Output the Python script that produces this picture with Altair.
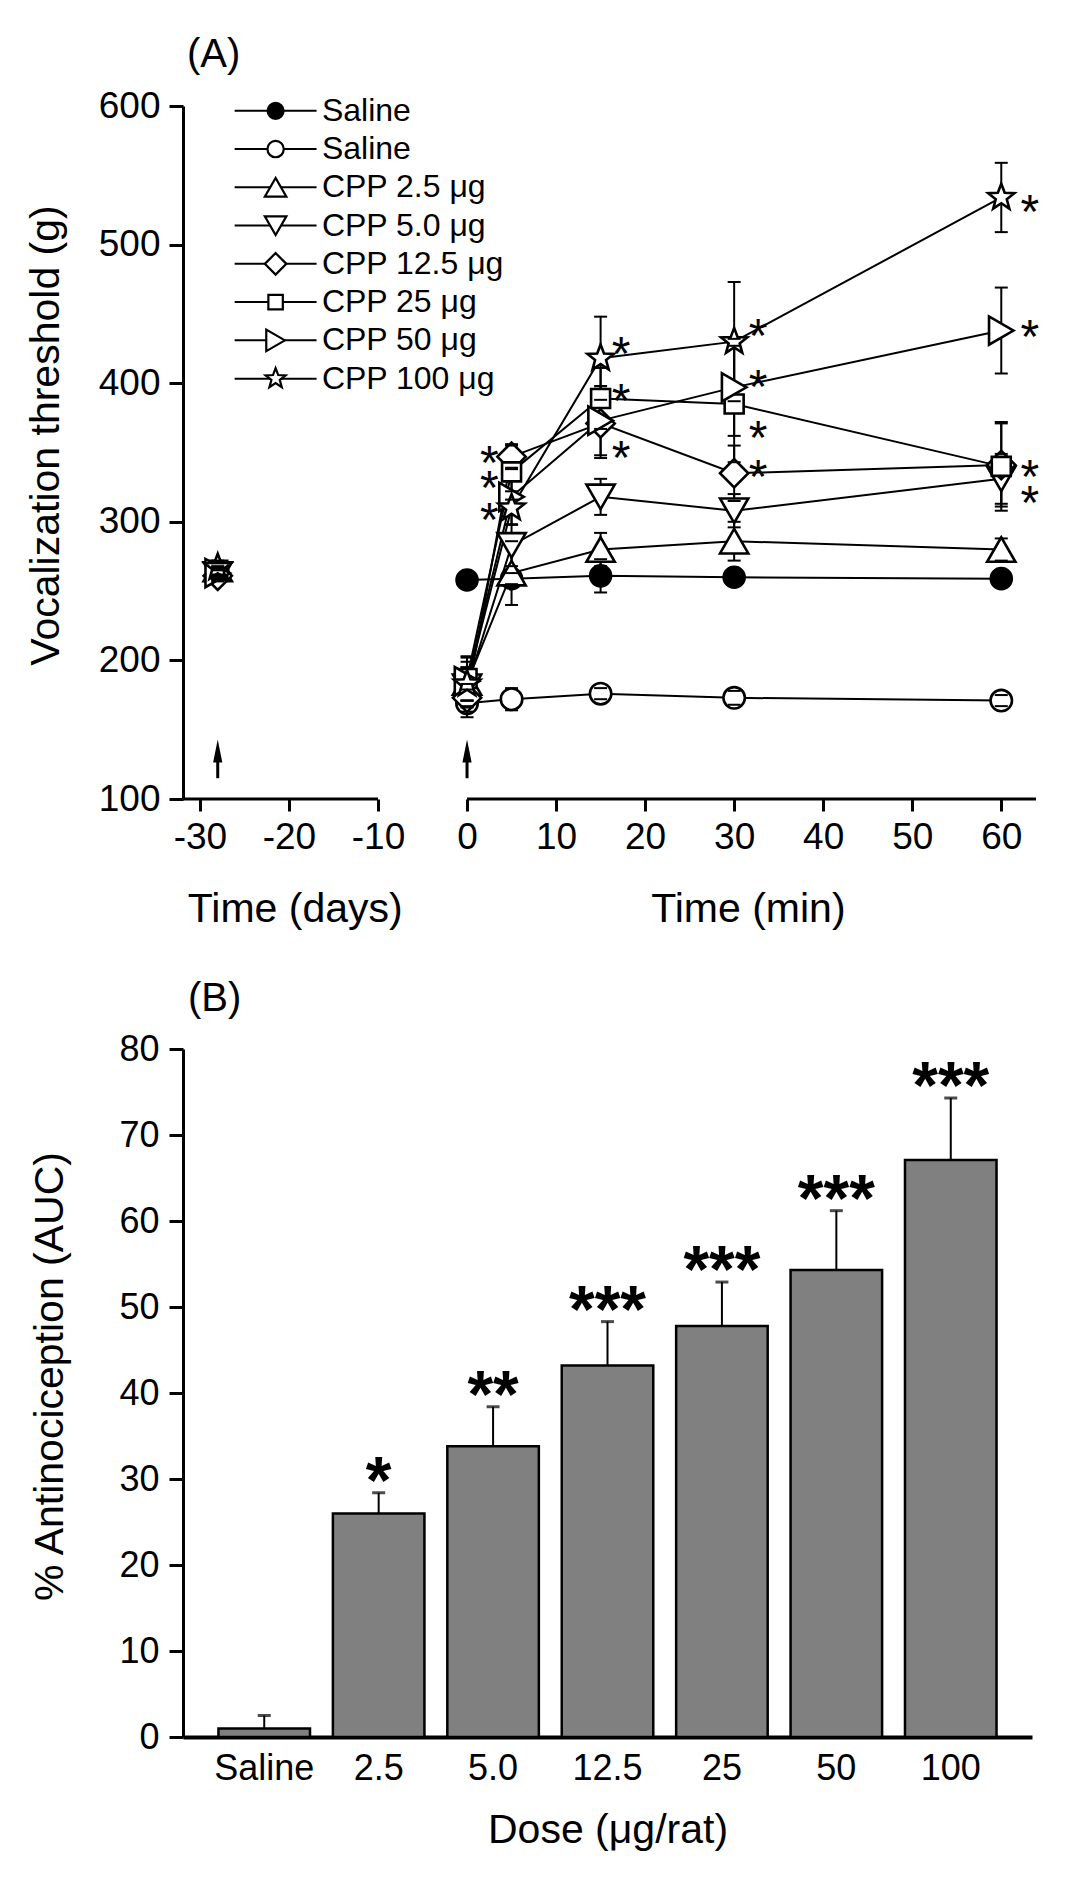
import altair as alt
import pandas as pd

FONT = "Liberation Sans"

# ---------------- Panel A data ----------------
group_keys = ["saline_f", "saline_o", "cpp2.5", "cpp5", "cpp12.5", "cpp25", "cpp50", "cpp100"]
group_labels = ["Saline", "Saline", "CPP 2.5 μg", "CPP 5.0 μg", "CPP 12.5 μg",
                "CPP 25 μg", "CPP 50 μg", "CPP 100 μg"]

pre_day = -28
pre_values = [263, 264, 266, 262, 261, 265, 263, 267]
pre_sem = [4, 4, 5, 4, 4, 5, 4, 5]

times_min = [0, 5, 15, 30, 60]
values = [
    [258, 259, 261, 260, 259],
    [169, 172, 176, 173, 171],
    [184, 263, 280, 286, 280],
    [181, 283, 318, 308, 331],
    [173, 347, 371, 335, 341],
    [187, 336, 389, 385, 340],
    [185, 318, 373, 397, 438],
    [183, 310, 418, 430, 534],
]
sems = [
    [4, 4, 12, 5, 5],
    [10, 8, 4, 5, 4],
    [18, 23, 12, 14, 8],
    [14, 15, 13, 12, 18],
    [10, 8, 25, 20, 30],
    [16, 20, 22, 42, 32],
    [14, 20, 25, 35, 31],
    [12, 12, 30, 43, 25],
]

sig_time = [2.5, 2.5, 2.5, 17.3, 17.3, 17.3, 32.7, 32.7, 32.7, 32.7, 63.2, 63.2, 63.2, 63.2]
sig_value = [351, 333, 310, 430, 395.5, 355, 443, 406, 369, 341, 532, 442, 341, 322]

arrow_x = [-28, 0]
arrow_tip = 143
arrow_base = 115

x_ticks_A = [-30, -20, -10, 0, 10, 20, 30, 40, 50, 60]
y_ticks_A = [100, 200, 300, 400, 500, 600]
axis_seg_start = [-31.9, 0]
axis_seg_end = [-10, 63.9]
x_titles_A = ["Time (days)", "Time (min)"]
x_titles_pos = [-19.3, 31.6]

# ---------------- Panel B data ----------------
doses = ["Saline", "2.5", "5.0", "12.5", "25", "50", "100"]
auc = [1.0, 26.0, 33.8, 43.2, 47.8, 54.3, 67.1]
auc_sem = [1.5, 2.4, 4.6, 5.1, 5.1, 6.9, 7.2]
sig_b = ["", "*", "**", "***", "***", "***", "***"]
y_ticks_B = [0, 10, 20, 30, 40, 50, 60, 70, 80]

# ---------------- styles ----------------
STAR = ("M0,-1L0.247,-0.34L0.951,-0.309L0.399,0.13L0.588,0.809L0,0.42"
        "L-0.588,0.809L-0.399,0.13L-0.951,-0.309L-0.247,-0.34Z")
HEAD = "M0,-1L0.4,1L-0.4,1Z"
shape_map = {"saline_f": "circle", "saline_o": "circle", "cpp2.5": "triangle-up",
             "cpp5": "triangle-down", "cpp12.5": "diamond", "cpp25": "square",
             "cpp50": "triangle-right", "cpp100": STAR}
size_map = {"saline_f": 440, "saline_o": 460, "cpp2.5": 800, "cpp5": 800,
            "cpp12.5": 800, "cpp25": 360, "cpp50": 800, "cpp100": 760}
fill_map = {k: ("black" if k == "saline_f" else "white") for k in group_keys}
LEG_SCALE = 0.58
LEG_TOP, LEG_STEP = 596.5, 27.6
LEG_X0, LEG_X1, LEG_XM, LEG_XT = -26.1, -16.9, -21.5, -16.3
PX_PER_UNIT_A = 1.385

# ---------------- build tables ----------------
pt_rows, line_rows, cap_rows = [], [], []
for gi, g in enumerate(group_keys):
    all_t = [pre_day] + times_min
    all_v = [pre_values[gi]] + values[gi]
    all_s = [pre_sem[gi]] + sems[gi]
    for t, v, s in zip(all_t, all_v, all_s):
        pt_rows.append(dict(group=g, time=t, value=v, lo=v - s, hi=v + s,
                            shape=shape_map[g], size=size_map[g], fill=fill_map[g]))
        cap_rows.append(dict(time=t, cap=v - s))
        cap_rows.append(dict(time=t, cap=v + s))
    for t, v in zip(times_min, values[gi]):
        line_rows.append(dict(group=g, time=t, value=v))
pt_df = pd.DataFrame(pt_rows)
line_df = pd.DataFrame(line_rows)
cap_df = pd.DataFrame(cap_rows)
sig_df = pd.DataFrame({"t": sig_time, "v": sig_value})
seg_df = pd.DataFrame({"x0": axis_seg_start, "x1": axis_seg_end, "y": [100, 100]})
head_len = 23 / PX_PER_UNIT_A
arr_df = pd.DataFrame({"x": arrow_x, "base": [arrow_base] * 2,
                       "neck": [arrow_tip - head_len + 1] * 2,
                       "headc": [arrow_tip - head_len / 2] * 2})
leg_df = pd.DataFrame({
    "label": group_labels,
    "y": [LEG_TOP - i * LEG_STEP for i in range(len(group_keys))],
    "x0": LEG_X0, "x1": LEG_X1, "xm": LEG_XM, "xt": LEG_XT,
    "shape": [shape_map[g] for g in group_keys],
    "size": [size_map[g] * LEG_SCALE for g in group_keys],
    "fill": [fill_map[g] for g in group_keys],
})
ttl_df = pd.DataFrame({"x": x_titles_pos, "label": x_titles_A})

# ---------------- Panel A ----------------
xsA = alt.Scale(domain=[-31.9, 63.9], nice=False, zero=False)
ysA = alt.Scale(domain=[100, 600], nice=False, zero=False)

axA_x = alt.Axis(values=x_ticks_A, domain=False, tickSize=12, tickWidth=3, tickColor="black",
                 labelFontSize=37, labelPadding=8, labelExpr="'' + datum.value",
                 labelFont=FONT, labelColor="black", title=None, grid=False)
axA_y = alt.Axis(values=y_ticks_A, domain=True, domainWidth=3, domainColor="black",
                 tickSize=14, tickWidth=3, tickColor="black", labelFontSize=37, labelPadding=9,
                 labelExpr="'' + datum.value", labelFont=FONT, labelColor="black",
                 title="Vocalization threshold (g)", titleFont=FONT, titleFontSize=41,
                 titleFontWeight="normal", titleColor="black", titlePadding=31, titleY=329,
                 grid=False)


def XA(f):
    return alt.X(f, type="quantitative", scale=xsA, axis=axA_x)


def YA(f):
    return alt.Y(f, type="quantitative", scale=ysA, axis=axA_y)


axis_layer = alt.Chart(seg_df).mark_rule(color="black", strokeWidth=3).encode(
    x=XA("x0"), x2="x1", y=YA("y"))

lines = alt.Chart(line_df).mark_line(color="black", strokeWidth=2).encode(
    x=XA("time"), y=YA("value"), detail="group:N")

err = alt.Chart(pt_df).mark_rule(color="black", strokeWidth=2).encode(
    x=XA("time"), y=YA("lo"), y2="hi")

pts = alt.Chart(pt_df).mark_point(filled=True, opacity=1, stroke="black", strokeWidth=2.6).encode(
    x=XA("time"), y=YA("value"),
    shape=alt.Shape("shape:N", scale=None),
    size=alt.Size("size:Q", scale=None),
    fill=alt.Fill("fill:N", scale=None))

caps = alt.Chart(cap_df).mark_rule(color="black", strokeWidth=2, xOffset=-6.5, x2Offset=6.5).encode(
    x=XA("time"), x2="time", y=YA("cap"))

sigA = alt.Chart(sig_df).mark_text(text="*", font=FONT, fontSize=48, dy=28, baseline="alphabetic",
                                   align="center", color="black").encode(x=XA("t"), y=YA("v"))

shaft = alt.Chart(arr_df).mark_rule(color="black", strokeWidth=3).encode(
    x=XA("x"), y=YA("base"), y2="neck")
head = alt.Chart(arr_df).mark_point(shape=HEAD, size=529, filled=True, fill="black",
                                    opacity=1, strokeWidth=0).encode(x=XA("x"), y=YA("headc"))

leg_lines = alt.Chart(leg_df).mark_rule(color="black", strokeWidth=2).encode(
    x=XA("x0"), x2="x1", y=YA("y"))
leg_pts = alt.Chart(leg_df).mark_point(filled=True, opacity=1, stroke="black", strokeWidth=2.2).encode(
    x=XA("xm"), y=YA("y"),
    shape=alt.Shape("shape:N", scale=None),
    size=alt.Size("size:Q", scale=None),
    fill=alt.Fill("fill:N", scale=None))
leg_text = alt.Chart(leg_df).mark_text(font=FONT, fontSize=32, align="left", baseline="middle",
                                       color="black").encode(x=XA("xt"), y=YA("y"), text="label:N")

titlesA = alt.Chart(ttl_df).mark_text(font=FONT, fontSize=41, align="center", baseline="top",
                                      color="black").encode(x=XA("x"), y=alt.value(784), text="label:N")

panelA = alt.layer(axis_layer, lines, err, pts, caps, sigA, shaft, head,
                   leg_lines, leg_pts, leg_text, titlesA).properties(
    width=853, height=693,
    title=alt.TitleParams(text="(A)", anchor="start", frame="group", fontSize=40, font=FONT,
                          fontWeight="normal", color="black", dx=4, offset=12))

# ---------------- Panel B ----------------
dfB = pd.DataFrame({"dose": doses, "auc": auc, "top": [a + s for a, s in zip(auc, auc_sem)],
                    "sig": sig_b})
xsB = alt.Scale(domain=doses, paddingInner=0.2, paddingOuter=0.31)
ysB = alt.Scale(domain=[0, 80], nice=False, zero=True)

axB_x = alt.Axis(ticks=False, domainWidth=4, domainColor="black", labelAngle=0, labelFontSize=36,
                 labelPadding=14, labelFont=FONT, labelColor="black",
                 title="Dose (μg/rat)", titleFont=FONT, titleFontSize=41, titleFontWeight="normal",
                 titleColor="black", titlePadding=24, grid=False)
axB_y = alt.Axis(values=y_ticks_B, domain=True, domainWidth=3, domainColor="black", tickSize=14,
                 tickWidth=3, tickColor="black", labelFontSize=36, labelPadding=10,
                 labelFont=FONT, labelColor="black",
                 title="% Antinociception (AUC)", titleFont=FONT, titleFontSize=41,
                 titleFontWeight="normal", titleColor="black", titlePadding=47, titleY=327,
                 grid=False)


def XB():
    return alt.X("dose:N", scale=xsB, axis=axB_x, sort=doses)


def YB(f):
    return alt.Y(f, type="quantitative", scale=ysB, axis=axB_y)


bars = alt.Chart(dfB).mark_bar(color="#808080", stroke="black", strokeWidth=2.5).encode(
    x=XB(), y=YB("auc"))
errB = alt.Chart(dfB).mark_rule(color="black", strokeWidth=2).encode(
    x=XB(), y=YB("auc"), y2="top")
capB = alt.Chart(dfB).mark_tick(color="black", size=13, thickness=3).encode(
    x=XB(), y=YB("top"))
sigB = alt.Chart(dfB).mark_text(font=FONT, fontSize=66, fontWeight="bold", dy=10,
                                baseline="alphabetic", align="center", color="black").encode(
    x=XB(), y=YB("top"), text="sig:N")

panelB = alt.layer(bars, errB, capB, sigB).properties(
    width=849, height=688,
    title=alt.TitleParams(text="(B)", anchor="start", frame="group", fontSize=40, font=FONT,
                          fontWeight="normal", color="black", dx=5, offset=12))

chart = alt.vconcat(panelA, panelB, spacing=49).properties(
    padding={"left": 17, "top": 27, "right": 5, "bottom": 5}
).configure_view(stroke=None).configure_axis(grid=False)

chart.save("out.html", embed_options={"renderer": "svg", "actions": False})
